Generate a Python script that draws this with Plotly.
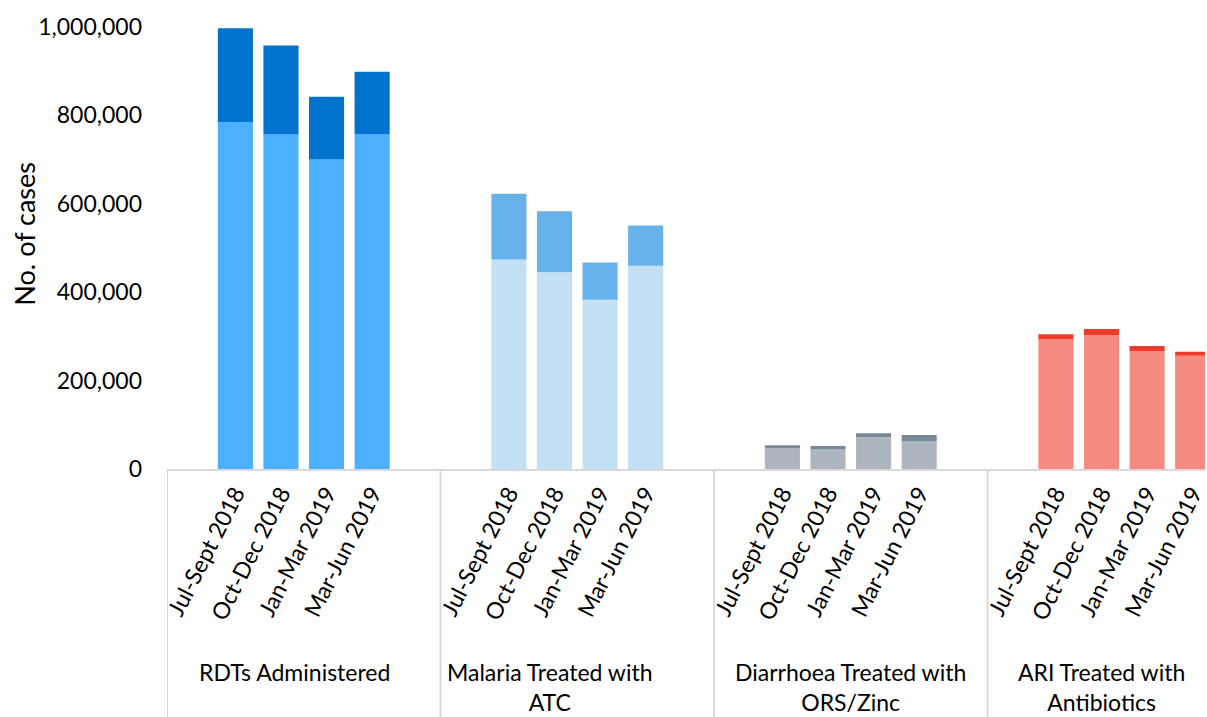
import plotly.graph_objects as go

# Service categories and reporting periods
groups = ["RDTs Administered", "Malaria Treated with<br>ATC",
          "Diarrhoea Treated with<br>ORS/Zinc", "ARI Treated with<br>Antibiotics"]
periods = ["Jul-Sept 2018", "Oct-Dec 2018", "Jan-Mar 2019", "Mar-Jun 2019"]

# Lower (main) segment of each bar, per category
base_values = [
    [785000, 757000, 700000, 758000],
    [474000, 445000, 383000, 460000],
    [47000, 45000, 72000, 63000],
    [294000, 303000, 267000, 256000],
]
# Total height of each bar, per category
total_values = [
    [997000, 958000, 842000, 899000],
    [623000, 583000, 467000, 551000],
    [54000, 52000, 81000, 77000],
    [305000, 317000, 278000, 265000],
]

base_colors = ["#4DAFFF", "#C3E0F5", "#ADB5BE", "#F58B80"]
top_colors = ["#0073CF", "#67B2EA", "#778896", "#EE3B2B"]
label_shift = [-9, -27, 0, -23]

FONT = "Lato, 'Open Sans', sans-serif"
SLOTS = 6  # one empty slot either side of the four bars in each category

fig = go.Figure()
tickvals, ticktext = [], []
for g, name in enumerate(groups):
    xs = [g * SLOTS + 1.5 + p for p in range(len(periods))]
    tops = [t - b for t, b in zip(total_values[g], base_values[g])]
    fig.add_trace(go.Bar(x=xs, y=base_values[g], width=0.77,
                         marker=dict(color=base_colors[g], line_width=0),
                         showlegend=False))
    fig.add_trace(go.Bar(x=xs, y=tops, base=base_values[g], width=0.77,
                         marker=dict(color=top_colors[g], line_width=0),
                         showlegend=False))
    tickvals += xs
    ticktext += periods
    fig.add_annotation(x=g * SLOTS + SLOTS / 2, xref="x", y=-0.422, yref="paper",
                       text=name, showarrow=False, xanchor="center", yanchor="top",
                       xshift=label_shift[g],
                       font=dict(family=FONT, size=23, color="#000000"))
    # category separator below the axis
    fig.add_shape(type="line", xref="x", yref="paper", x0=g * SLOTS, x1=g * SLOTS,
                  y0=0, y1=-0.6, line=dict(color="#D9D9D9", width=2))

fig.add_annotation(x=-0.137, xref="paper", y=0.532, yref="paper", text="No. of cases",
                   textangle=-90, showarrow=False, xanchor="center", yanchor="middle",
                   font=dict(family=FONT, size=27, color="#000000"))

fig.update_layout(
    width=1207, height=717,
    margin=dict(l=167, r=0, t=27, b=248),
    barmode="overlay",
    plot_bgcolor="white", paper_bgcolor="white",
    font=dict(family=FONT, size=23, color="#000000"),
    xaxis=dict(range=[0, 22.77], tickmode="array", tickvals=tickvals, ticktext=ticktext,
               tickangle=-63, showgrid=False, zeroline=False, ticklabeloverflow="allow",
               showline=True, linecolor="#D9D9D9", linewidth=2, ticks="",
               tickfont=dict(family=FONT, size=23, color="#000000")),
    yaxis=dict(range=[0, 1000000], tickvals=[0, 200000, 400000, 600000, 800000, 1000000],
               tickformat=",d", showgrid=False, zeroline=False, showline=False,
               ticklabelstandoff=24,
               tickfont=dict(family=FONT, size=23, color="#000000")),
)

fig.write_html("out.html")
